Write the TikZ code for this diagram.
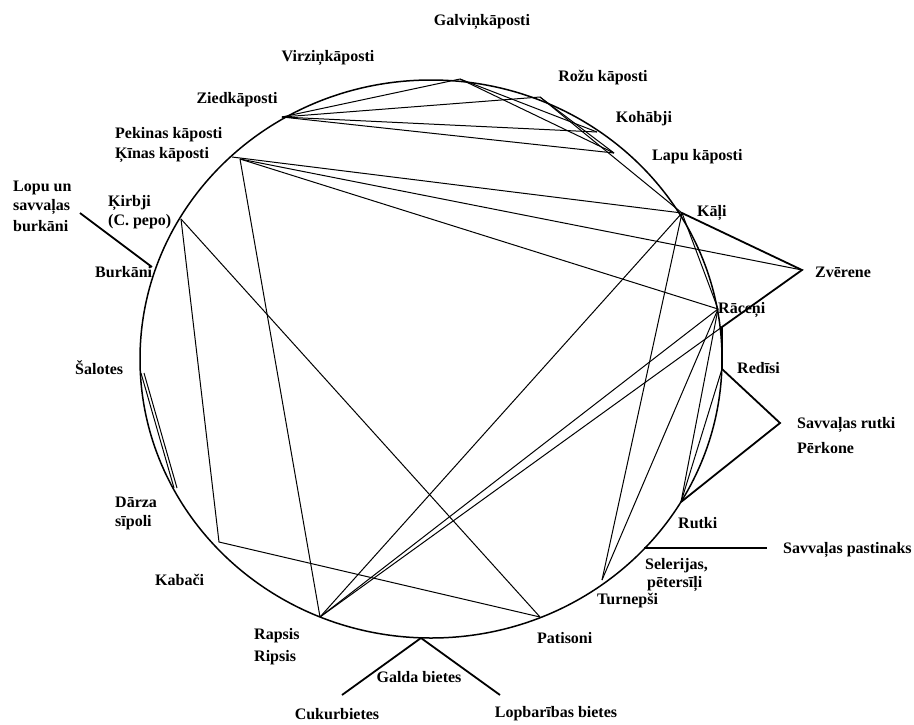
\documentclass[tikz,border=0pt]{standalone}
\usepackage{fontspec}
\setmainfont{Liberation Serif}
\begin{document}
\begin{tikzpicture}[x=1pt,y=-1pt,
  lab/.style={font=\fontsize{16}{18}\selectfont\bfseries, inner sep=0pt},
  labw/.style={lab, anchor=west},
  chord/.style={line width=1pt},
  bold/.style={line width=1.8pt},
  rim/.style={line width=1.5pt}]
\useasboundingbox (0,0) rectangle (914,724);
% rim
\draw[rim] (431,359) ellipse [x radius=291, y radius=279];
% points on the rim
\coordinate (virz) at (460,79);
\coordinate (rozu) at (540,97);
\coordinate (koh) at (597,132);
\coordinate (lapu) at (614,153);
\coordinate (zied) at (282,117);
\coordinate (pek1) at (232,157);
\coordinate (pek2) at (240,159);
\coordinate (kirb) at (181,219);
\coordinate (burk) at (152,267);
\coordinate (salo) at (141,373);
\coordinate (darz) at (174,488);
\coordinate (raps) at (320,617);
\coordinate (gald) at (421,638);
\coordinate (pati) at (540,617);
\coordinate (turn) at (602,580);
\coordinate (sele) at (644,548);
\coordinate (rutk) at (681,502);
\coordinate (redi) at (722,369);
\coordinate (rac2) at (722,327);
\coordinate (race) at (718,309);
\coordinate (kali) at (682,213);
% outer points
\coordinate (zver) at (802,270);
\coordinate (savr) at (780,423);
\coordinate (savp) at (767,548);
\coordinate (lopb) at (80,213);
\coordinate (cuk) at (342,695);
\coordinate (lop) at (500,695);
\coordinate (bend) at (219,542);
% chords
\draw[chord] (zied) -- (virz);
\draw[chord] (zied) -- (rozu);
\draw[chord] (zied) -- (koh);
\draw[chord] (zied) -- (lapu);
\draw[chord] (virz) -- (lapu);
\draw[chord] (virz) -- (koh);
\draw[chord] (rozu) -- (lapu);
\draw[chord] (rozu) -- (kali);
\draw[chord] (pek1) -- (kali);
\draw[chord] (pek2) -- (zver);
\draw[chord] (pek2) -- (race);
\draw[chord] (pek2) -- (raps);
\draw[chord] (kirb) -- (bend) -- (pati);
\draw[chord] (kirb) -- (pati);
\draw[chord] (salo) -- (darz);
\draw[chord] ([xshift=3]salo) -- ([xshift=3]darz);
\draw[chord] (raps) -- (kali);
\draw[chord] (raps) -- (race);
\draw[chord] (raps) -- (rac2);
\draw[chord] (kali) -- (race);
\draw[chord] (kali) -- (turn);
\draw[chord] (race) -- (turn);
\draw[chord] (race) -- (rutk);
\draw[chord] (redi) -- (rutk);
% bold connectors
\draw[bold] (kali) -- (zver) -- (rac2) -- (redi);
\draw[bold] (redi) -- (savr) -- (rutk);
\draw[bold] (sele) -- (savp);
\draw[bold] (burk) -- (lopb);
\draw[bold] (cuk) -- (gald) -- (lop);
% labels
\node[lab] (tgalv) at (482,22) {Galviņkāposti};
\node[lab] (tvirz) at (328,58) {Virziņkāposti};
\node[lab] (trozu) at (603,78) {Rožu kāposti};
\node[lab] (tzied) at (237,100) {Ziedkāposti};
\node[lab] (tkoh) at (644,119) {Kohābji};
\node[labw] (tlapu) at (652,157) {Lapu kāposti};
\node[labw] (tpek) at (115,135) {Pekinas kāposti};
\node[labw] (tkin) at (115,155) {Ķīnas kāposti};
\node[labw] (tlopu1) at (13,188) {Lopu un};
\node[labw] (tlopu2) at (13,207) {savvaļas};
\node[labw] (tlopu3) at (13,226) {burkāni};
\node[labw] (tkirb1) at (108,203) {Ķirbji};
\node[labw] (tkirb2) at (108,222) {(C. pepo)};
\node[labw] (tkali) at (697,213) {Kāļi};
\node[labw] (tzver) at (815,272) {Zvērene};
\node[labw] (tburk) at (95,272) {Burkāni};
\node[labw] (trace) at (718,310) {Rāceņi};
\node[labw] (tsalo) at (75,368) {Šalotes};
\node[labw] (tredi) at (737,368) {Redīsi};
\node[labw] (tsavr1) at (797,425) {Savvaļas rutki};
\node[labw] (tsavr2) at (797,448) {Pērkone};
\node[labw] (tdarz1) at (115,502) {Dārza};
\node[labw] (tdarz2) at (115,523) {sīpoli};
\node[labw] (trutk) at (678,523) {Rutki};
\node[labw] (tsavp) at (783,550) {Savvaļas pastinaks};
\node[labw] (tsele1) at (645,566) {Selerijas,};
\node[labw] (tsele2) at (647,584) {pētersīļi};
\node[labw] (tkab) at (155,580) {Kabači};
\node[labw] (tturn) at (597,601) {Turnepši};
\node[labw] (trap1) at (254,636) {Rapsis};
\node[labw] (trap2) at (254,658) {Ripsis};
\node[labw] (tpati) at (537,638) {Patisoni};
\node[lab] (tgald) at (419,677) {Galda bietes};
\node[lab] (tcuk) at (337,714) {Cukurbietes};
\node[lab] (tlopb) at (556,714) {Lopbarības bietes};
\end{tikzpicture}
\end{document}
